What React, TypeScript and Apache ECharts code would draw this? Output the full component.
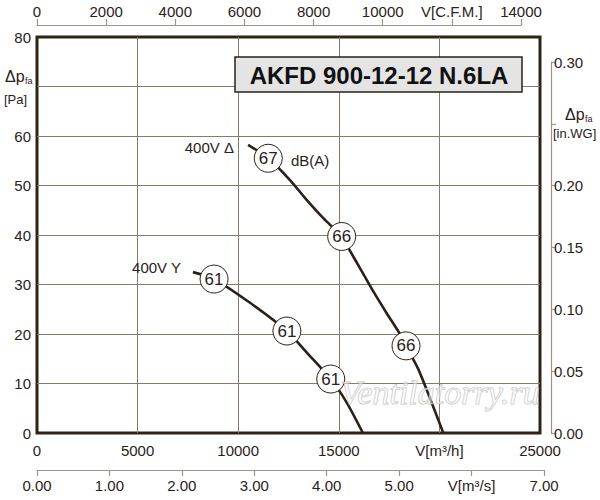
import React, { useEffect, useRef } from "react";
import * as echarts from "echarts";

// Flow in m³/h, pressure in Pa
const curveDelta: [number, number][] = [
  [10490, 58.2], [11495, 55.5], [12574, 51.1], [13403, 47.1], [14230, 43.4],
  [15143, 39.7], [15472, 37.4], [16137, 32.7], [16716, 28.6], [17379, 24.2],
  [17991, 20.3], [18340, 17.6], [18951, 12.9], [19532, 7.0], [20195, 0],
];
const curveStar: [number, number][] = [
  [7750, 32.5], [8800, 31.1], [10590, 26.3], [12420, 20.6], [13420, 16.2],
  [14600, 10.9], [15400, 6.1], [16200, 0],
];
const marksDelta: [number, number, number][] = [
  [11495, 55.5, 67], [15143, 39.7, 66], [18340, 17.6, 66],
];
const marksStar: [number, number, number][] = [
  [8800, 31.1, 61], [12420, 20.6, 61], [14600, 10.9, 61],
];
const curveLabels = ["400V Δ", "400V Y"];
const title = "AKFD 900-12-12 N.6LA";
const unitLabelX = 20000; // "V[m³/h]" replaces this tick
const unitLabelCfm = 12000;
const unitLabelM3s = 6;
const hiddenPa = 70;
const hiddenWg = 0.25;

const INK = "#2b2118";
const GRID = "#857a6c";
const AXIS = "#9a948a";
const FONT = "Liberation Sans, Arial, sans-serif";

export default function App() {
  const ref = useRef<HTMLDivElement>(null);
  useEffect(() => {
    if (!ref.current) return;
    const chart = echarts.init(ref.current, undefined, { renderer: "svg" });
    const lbl = { color: INK, fontSize: 15, fontFamily: FONT };
    const hiddenY = (gi: number) => ({ gridIndex: gi, type: "value", min: 0, max: 1, show: false });
    const hiddenX = (gi: number) => ({ gridIndex: gi, type: "value", min: 0, max: 1, show: false });
    const circleSeries = (data: [number, number, number][]) => ({
      type: "scatter",
      xAxisIndex: 0,
      yAxisIndex: 0,
      data,
      symbol: "circle",
      symbolSize: 28,
      z: 5,
      itemStyle: { color: "#fff", borderColor: INK, borderWidth: 1, opacity: 1 },
      label: {
        show: true,
        position: "inside",
        formatter: (p: any) => String(p.value[2]),
        color: INK,
        textBorderWidth: 0,
        textBorderColor: "transparent",
        fontSize: 17,
        fontFamily: FONT,
      },
      emphasis: { disabled: true },
    });
    const curveSeries = (data: [number, number][]) => ({
      type: "line",
      xAxisIndex: 0,
      yAxisIndex: 0,
      data,
      smooth: 0.25,
      showSymbol: false,
      z: 3,
      lineStyle: { color: INK, width: 2.6 },
    });
    chart.setOption({
      animation: false,
      backgroundColor: "#fff",
      grid: [
        { left: 37, top: 37, width: 503, height: 396, show: true, borderColor: "#2e2416", borderWidth: 3, backgroundColor: "transparent" },
        { left: 37, top: 25, width: 484, height: 1 },
        { left: 37, top: 469, width: 507, height: 1 },
        { left: 500, top: 62, width: 51, height: 371 },
      ],
      xAxis: [
        {
          gridIndex: 0, type: "value", min: 0, max: 25000, interval: 5000,
          axisLine: { show: false, onZero: false }, axisTick: { show: false },
          splitLine: { show: true, showMinLine: false, showMaxLine: false, lineStyle: { color: GRID, width: 1 } },
          axisLabel: { ...lbl, margin: 10, formatter: (v: number) => (v === unitLabelX ? "V[m³/h]" : String(v)) },
        },
        {
          gridIndex: 1, type: "value", position: "top", min: 0, max: 14000, interval: 2000,
          axisLine: { show: true, onZero: false, lineStyle: { color: AXIS, width: 1.2 } },
          axisTick: { show: true, inside: false, length: 6, lineStyle: { color: AXIS, width: 1.2 } },
          splitLine: { show: false },
          axisLabel: { ...lbl, margin: 6, formatter: (v: number) => (v === unitLabelCfm ? "V[C.F.M.]" : String(v)) },
        },
        {
          gridIndex: 2, type: "value", position: "bottom", min: 0, max: 7, interval: 1,
          axisLine: { show: true, onZero: false, lineStyle: { color: AXIS, width: 1.2 } },
          axisTick: { show: true, inside: false, length: 6, lineStyle: { color: AXIS, width: 1.2 } },
          splitLine: { show: false },
          axisLabel: { ...lbl, margin: 8, formatter: (v: number) => (v === unitLabelM3s ? "V[m³/s]" : v.toFixed(2)) },
        },
        hiddenX(3),
      ],
      yAxis: [
        {
          gridIndex: 0, type: "value", min: 0, max: 80, interval: 10,
          axisLine: { show: false, onZero: false }, axisTick: { show: false },
          splitLine: { show: true, showMinLine: false, showMaxLine: false, lineStyle: { color: GRID, width: 1 } },
          axisLabel: { ...lbl, margin: 6, formatter: (v: number) => (v === hiddenPa ? "" : String(v)) },
        },
        hiddenY(1),
        hiddenY(2),
        {
          gridIndex: 3, type: "value", position: "right", min: 0, max: 0.3, interval: 0.05,
          axisLine: { show: true, onZero: false, lineStyle: { color: AXIS, width: 1.2 } },
          axisTick: { show: true, inside: false, length: 5, lineStyle: { color: AXIS, width: 1.2 } },
          splitLine: { show: false },
          axisLabel: { ...lbl, margin: 3, formatter: (v: number) => (Math.abs(v - hiddenWg) < 1e-6 ? "" : v.toFixed(2)) },
        },
      ],
      series: [
        curveSeries(curveDelta),
        curveSeries(curveStar),
        circleSeries(marksDelta),
        circleSeries(marksStar),
      ],
      graphic: [
        {
          type: "rect", z: 10,
          shape: { x: 235, y: 57, width: 287, height: 35 },
          style: { fill: "#e4e4e4", stroke: INK, lineWidth: 1.5 },
        },
        {
          type: "text", z: 11, x: 379, y: 75,
          style: { text: title, font: `bold 24px ${FONT}`, fill: "#111", textAlign: "center", textVerticalAlign: "middle" },
        },
        { type: "text", z: 11, x: 234, y: 147, style: { text: curveLabels[0], font: `15px ${FONT}`, fill: INK, textAlign: "right", textVerticalAlign: "middle" } },
        { type: "text", z: 11, x: 291, y: 160, style: { text: "dB(A)", font: `15px ${FONT}`, fill: INK, textAlign: "left", textVerticalAlign: "middle" } },
        { type: "text", z: 11, x: 181, y: 267, style: { text: curveLabels[1], font: `15px ${FONT}`, fill: INK, textAlign: "right", textVerticalAlign: "middle" } },
        // left axis name
        { type: "text", z: 11, x: 5, y: 76, style: { text: "Δp", font: `16px ${FONT}`, fill: INK, textVerticalAlign: "middle" } },
        { type: "text", z: 11, x: 25, y: 81, style: { text: "fa", font: `9px ${FONT}`, fill: INK, textVerticalAlign: "middle" } },
        { type: "text", z: 11, x: 4, y: 99, style: { text: "[Pa]", font: `13px ${FONT}`, fill: INK, textVerticalAlign: "middle" } },
        // right axis name
        { type: "text", z: 11, x: 565, y: 114, style: { text: "Δp", font: `16px ${FONT}`, fill: INK, textVerticalAlign: "middle" } },
        { type: "text", z: 11, x: 585, y: 119, style: { text: "fa", font: `9px ${FONT}`, fill: INK, textVerticalAlign: "middle" } },
        { type: "text", z: 11, x: 553, y: 133, style: { text: "[in.WG]", font: `13px ${FONT}`, fill: INK, textVerticalAlign: "middle" } },
        // watermark
        {
          type: "text", z: 20, x: 440, y: 392,
          style: {
            text: "Ventilatorry.ru",
            font: `italic 34px "Liberation Serif", "DejaVu Serif", serif`,
            fill: "rgba(250,250,250,0.55)", stroke: "rgba(170,170,170,0.7)", lineWidth: 1,
            textAlign: "center", textVerticalAlign: "middle",
          },
        },
      ],
    });
    return () => chart.dispose();
  }, []);
  return <div ref={ref} style={{ position: "fixed", left: 0, top: 0, width: 600, height: 500 }} />;
}
